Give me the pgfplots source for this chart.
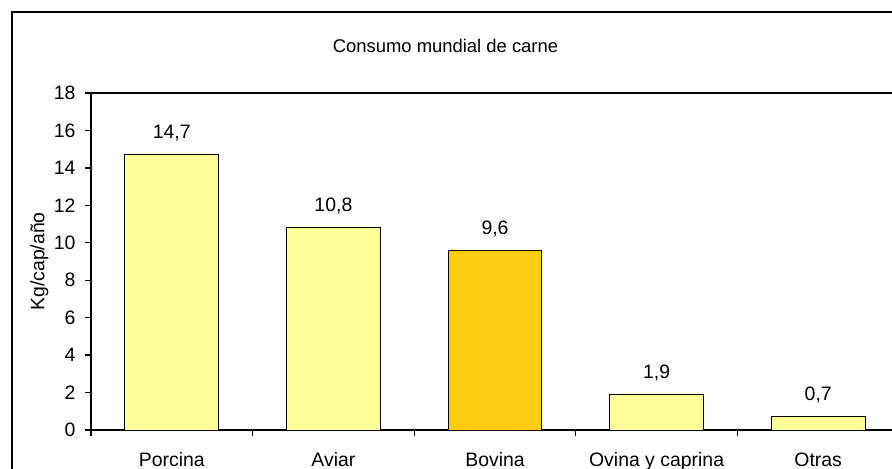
\documentclass[border=0pt]{standalone}
\usepackage{fontspec}
\setmainfont{Liberation Sans}
\usepackage{pgfplots}
\pgfplotsset{compat=1.18}
\definecolor{lightyel}{RGB}{255,255,153}
\definecolor{goldbar}{RGB}{255,204,17}
\begin{document}
\begin{tikzpicture}
\path[use as bounding box, clip] (0bp,0bp) rectangle (892bp,469bp);
\draw[line width=2bp] (11.5bp,456.5bp) rectangle (920bp,-20bp);
\begin{axis}[
  at={(91bp,39bp)}, anchor=south west,
  scale only axis, width=808bp, height=337bp,
  xmin=-0.5, xmax=4.5, ymin=0, ymax=18,
  ytick={0,2,...,18},
  xtick={0,1,2,3,4},
  xticklabels={Porcina,Aviar,Bovina,Ovina y caprina,Otras},
  minor xtick={-0.5,0.5,1.5,2.5,3.5,4.5},
  tick align=outside, tick pos=left,
  major tick length=6bp, minor tick length=6bp,
  tick style={black, line width=1.3bp},
  major x tick style={draw=none},
  axis line style={line width=2bp},
  /pgf/number format/assume math mode=true,
  tick label style={font=\fontsize{19.5}{22}\selectfont},
  xticklabel style={yshift=-13bp},
  yticklabel style={xshift=-6bp},
  ylabel={Kg/cap/año},
  ylabel style={at={(axis description cs:-0.064,0.5)}, anchor=center, font=\fontsize{19.5}{22}\selectfont},
  title={Consumo mundial de carne},
  title style={at={(axis description cs:0.4387,1)}, anchor=base, yshift=35bp, font=\fontsize{18.5}{22}\selectfont},
  ybar, bar width=0.58,
  nodes near coords={\pgfmathprintnumber[use comma,fixed,fixed zerofill,precision=1,assume math mode=true]{\pgfplotspointmeta}},
  every node near coord/.append style={anchor=base, yshift=16bp, font=\fontsize{19.5}{22}\selectfont},
]
\addplot[bar shift=0pt, fill=lightyel, draw=black, line width=1bp] coordinates {(0,14.7) (1,10.8) (3,1.9) (4,0.7)};
\addplot[bar shift=0pt, fill=goldbar, draw=black, line width=1bp] coordinates {(2,9.6)};
\end{axis}
\end{tikzpicture}
\end{document}
